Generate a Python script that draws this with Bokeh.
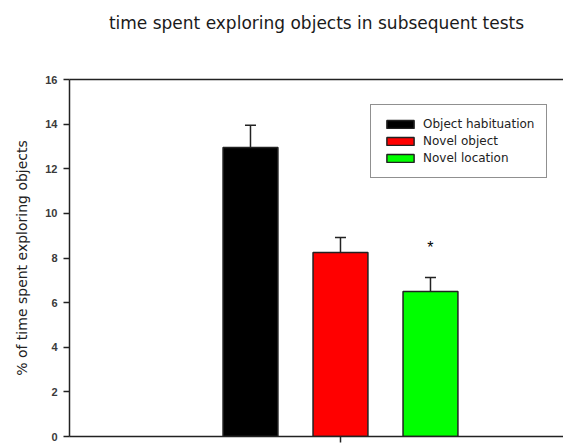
from bokeh.plotting import figure
from bokeh.models import (ColumnDataSource, FixedTicker, LinearAxis, Range1d,
                          Legend, LegendItem, Whisker, Title)
from bokeh.embed import file_html
from bokeh.resources import INLINE

# ---- data ----
groups = ["Object habituation", "Novel object", "Novel location"]
means = [12.95, 8.25, 6.5]
sems = [1.0, 0.67, 0.63]
colors = ["#000000", "#FF0000", "#00FF00"]
positions = [1, 2, 3]
y_ticks = [0, 2, 4, 6, 8, 10, 12, 14, 16]
star_group = 3
star_y = 8.45

src = ColumnDataSource(dict(
    x=positions, top=means,
    upper=[m + s for m, s in zip(means, sems)],
    color=colors, label=groups,
))

p = figure(width=563, height=443, output_backend="svg", toolbar_location=None,
           x_range=Range1d(-1.011, 4.478), y_range=Range1d(0, 16),
           min_border_left=69, min_border_right=0, min_border_top=0,
           min_border_bottom=7)
p.outline_line_color = None
p.grid.grid_line_color = None
p.background_fill_color = "white"
p.border_fill_color = "white"

p.title = Title(text="time spent exploring objects in subsequent tests",
                text_font="DejaVu Sans", text_font_size="17px",
                text_font_style="normal", text_color="#1a1a1a", align="center",
                standoff=20)

# bars
r = p.vbar(x="x", top="top", width=0.61, source=src, fill_color="color",
           line_color="#222222", line_width=1.5)

# error bars (upper only)
p.segment(x0="x", y0="top", x1="x", y1="upper", source=src,
          line_color="#222222", line_width=1.5)
w = Whisker(base="x", upper="upper", lower="upper", source=src, dimension="height",
            line_color="#222222", line_width=1.5)
w.upper_head.size = 11
w.upper_head.line_color = "#222222"
w.upper_head.line_width = 1.5
w.lower_head = None
p.add_layout(w)

# significance star
p.text(x=[star_group], y=[star_y], text=["*"], text_align="center",
       text_baseline="middle", text_font_size="16px", text_color="black")

# axes
p.yaxis.ticker = FixedTicker(ticks=y_ticks)
p.yaxis.axis_label = "% of time spent exploring objects"
p.yaxis.axis_label_text_font = "DejaVu Sans"
p.yaxis.axis_label_text_font_size = "14px"
p.yaxis.axis_label_text_font_style = "normal"
p.yaxis.axis_label_text_color = "#222222"
p.yaxis.axis_label_standoff = 12
p.yaxis.major_label_text_font = "Liberation Sans"
p.yaxis.major_label_text_font_size = "11px"
p.yaxis.major_label_text_font_style = "bold"
p.yaxis.major_label_text_color = "#3a3a3a"
p.yaxis.major_label_standoff = 6
p.yaxis.major_tick_out = 6
p.yaxis.major_tick_in = 0
p.yaxis.minor_tick_line_color = None
p.yaxis.axis_line_width = 1.5
p.yaxis.axis_line_color = "#222222"
p.yaxis.major_tick_line_color = "#222222"
p.yaxis.major_tick_line_width = 1.5

p.xaxis.ticker = FixedTicker(ticks=[2])
p.xaxis.major_label_overrides = {2: ""}
p.xaxis.major_label_standoff = 0
p.xaxis.major_tick_out = 6
p.xaxis.major_tick_in = 0
p.xaxis.minor_tick_line_color = None
p.xaxis.axis_line_width = 1.5
p.xaxis.axis_line_color = "#222222"
p.xaxis.major_tick_line_color = "#222222"
p.xaxis.major_tick_line_width = 1.5

# top frame line; its invisible tick spaces the title away from the frame
top_axis = LinearAxis(ticker=FixedTicker(ticks=[0]), axis_line_width=1.5,
                      axis_line_color="#222222", major_label_standoff=0,
                      major_label_overrides={0: ""},
                      major_tick_out=37, major_tick_in=0,
                      major_tick_line_color=None, minor_tick_line_color=None)
p.add_layout(top_axis, "above")

# legend
items = [LegendItem(label=groups[i], renderers=[r], index=i) for i in range(3)]
legend = Legend(items=items, location=(301, 258),
                label_text_font="DejaVu Sans", label_text_font_size="12px",
                label_text_color="#222222",
                glyph_width=34, glyph_height=10, label_height=10,
                label_standoff=6, spacing=3, padding=12, margin=0,
                border_line_color="#222222", border_line_width=1.5,
                background_fill_alpha=1.0)
p.add_layout(legend)

open("out.html", "w").write(file_html(p, INLINE))
